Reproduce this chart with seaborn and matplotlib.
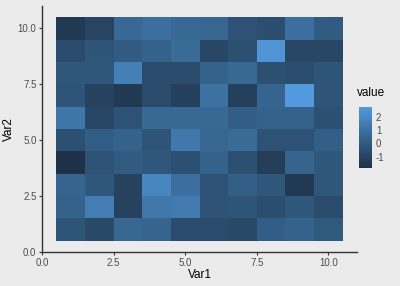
import numpy as np
import pandas as pd
import seaborn as sns
import matplotlib
matplotlib.use("Agg")
import matplotlib.pyplot as plt
from matplotlib.colors import LinearSegmentedColormap

var1 = [1, 2, 3, 4, 5, 6, 7, 8, 9, 10]
var2 = [1, 2, 3, 4, 5, 6, 7, 8, 9, 10]
# rows listed from Var2 = 10 (top) down to Var2 = 1 (bottom)
row10 = [-1.5, -1.0, 0.6, 0.9, 0.6, 0.5, -0.4, -0.6, 0.9, 0.0]
row9 = [-0.7, -0.3, 0.0, 0.3, 0.7, -0.9, -0.5, 2.5, -0.9, -0.9]
row8 = [-0.2, -0.2, 1.6, -0.7, -0.7, 0.3, 0.6, -0.5, -0.6, -0.3]
row7 = [-0.3, -1.1, -1.5, -0.7, -1.2, 1.0, -1.2, 0.4, 2.75, -0.3]
row6 = [1.2, -0.9, -0.4, 0.6, 0.6, 0.6, 0.1, 0.3, 0.3, -0.5]
row5 = [-0.5, 0.1, 0.3, -0.3, 1.3, 0.5, 0.7, -0.4, -0.4, 0.2]
row4 = [-1.85, -0.4, 0.0, -0.2, -0.5, 0.3, -0.5, -1.3, 0.4, -0.2]
row3 = [0.4, -0.2, -1.1, 1.9, 0.9, -0.4, 0.2, -0.2, -1.5, -0.2]
row2 = [0.3, 1.5, -1.1, 1.3, 1.4, -0.4, -0.3, -0.6, -0.2, -0.7]
row1 = [-0.3, -0.8, 0.5, 0.4, -0.7, -0.7, -0.8, 0.1, 0.3, -0.1]
rows = [row1, row2, row3, row4, row5, row6, row7, row8, row9, row10]

x_ticks = [0.0, 2.5, 5.0, 7.5, 10.0]
y_ticks = [0.0, 2.5, 5.0, 7.5, 10.0]
cbar_ticks = [-1, 0, 1, 2]

records = []
for j, yv in enumerate(var2):
    for i, xv in enumerate(var1):
        records.append({"Var1": xv, "Var2": yv, "value": rows[j][i]})
df = pd.DataFrame(records)

bg = "#EBEBEB"
sns.set_theme(style="white")
plt.rcParams["font.family"] = ["Liberation Sans", "DejaVu Sans"]
plt.rcParams["axes.unicode_minus"] = False

cmap = LinearSegmentedColormap.from_list("gg", ["#1E3148", "#36658F", "#5299DD"])

fig = plt.figure(figsize=(4.0, 2.86), dpi=100, facecolor=bg)
ax = fig.add_axes([0.105, 0.119, 0.7875, 0.86])
cax = fig.add_axes([0.8975, 0.413, 0.032, 0.213])
ax.set_facecolor(bg)

vmin, vmax = df["value"].min(), df["value"].max()
sns.histplot(data=df, x="Var1", y="Var2", weights="value", discrete=(True, True),
             thresh=None, cmap=cmap, vmin=vmin, vmax=vmax, ax=ax,
             cbar=True, cbar_ax=cax)

ax.set_xlim(0, 11)
ax.set_ylim(0, 11)
ax.set_xticks(x_ticks)
ax.set_yticks(y_ticks)
ax.set_xticklabels([f"{t:.1f}" for t in x_ticks])
ax.set_yticklabels([f"{t:.1f}" for t in y_ticks])
for s in ["top", "right"]:
    ax.spines[s].set_visible(False)
for s in ["left", "bottom"]:
    ax.spines[s].set_color("#333333")
    ax.spines[s].set_linewidth(1.0)
ax.tick_params(axis="both", which="both", length=2.5, width=0.8, color="#333333",
               labelsize=7, labelcolor="#4D4D4D", pad=1.5, bottom=True, left=True)
ax.set_xlabel("Var1", fontsize=8.5, color="black", labelpad=1)
ax.set_ylabel("Var2", fontsize=8.5, color="black", labelpad=2)
ax.grid(False)

cb = ax.collections[0].colorbar
cb.outline.set_visible(False)
cb.set_ticks(cbar_ticks)
cb.ax.tick_params(length=2, width=0.6, color="white", labelsize=7,
                  labelcolor="#4D4D4D", pad=3, direction="in")
cax.set_facecolor(bg)
fig.text(0.8925, 0.655, "value", fontsize=8.5, color="black", ha="left", va="bottom")

fig.savefig("out.png", dpi=100, facecolor=bg)
